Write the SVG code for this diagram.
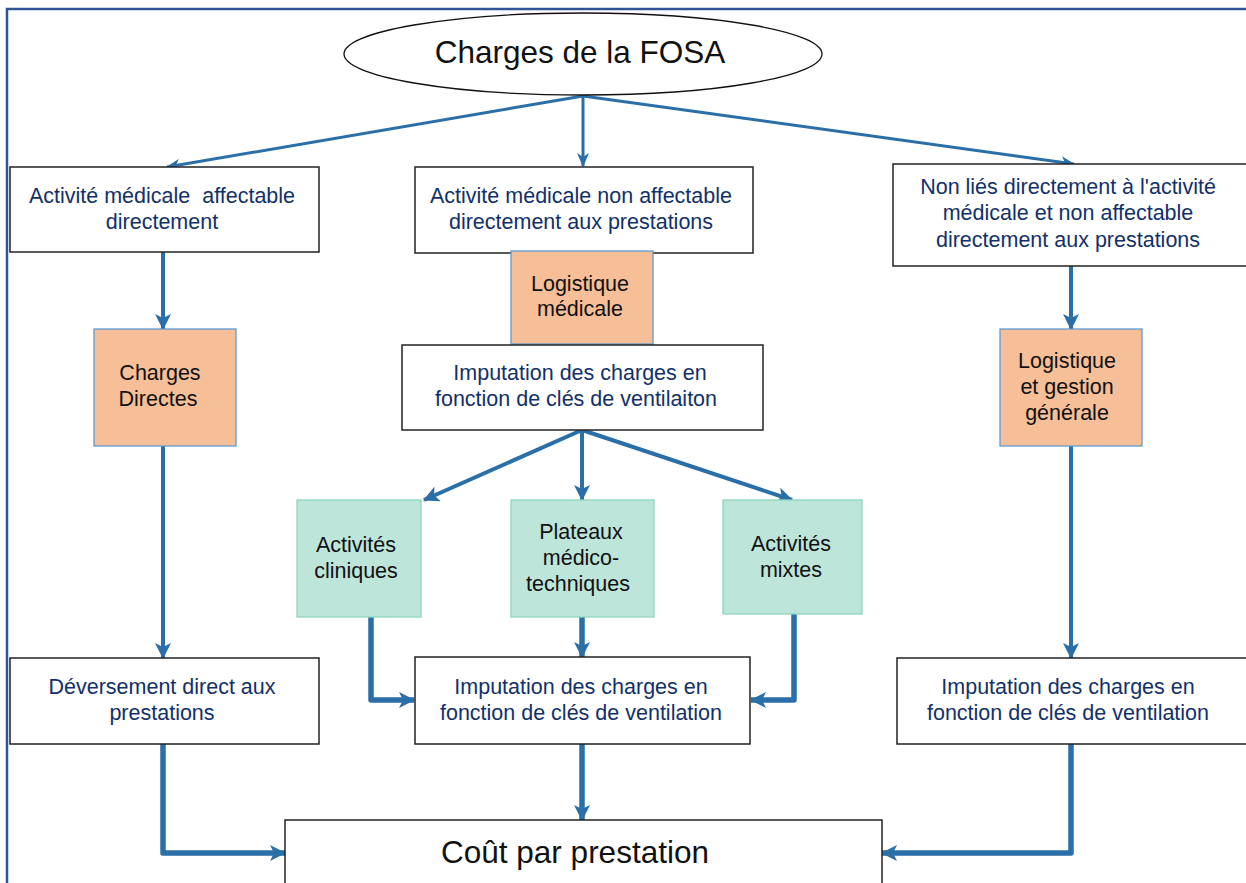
<svg xmlns="http://www.w3.org/2000/svg" width="1246" height="883" viewBox="0 0 1246 883">
<defs>
<style>
.box{fill:#fff;stroke:#222;stroke-width:1.5}
.org{fill:#F7BF98;stroke:#5B9BD5;stroke-width:1.3}
.grn{fill:#BDE5DA;stroke:#8FD6C1;stroke-width:1.3}
.t{font-family:"Liberation Sans",Arial,sans-serif;font-size:21.5px;fill:#12306A;text-anchor:middle;white-space:pre}
.k{font-family:"Liberation Sans",Arial,sans-serif;font-size:21.5px;fill:#111;text-anchor:middle}
.big{font-family:"Liberation Sans",Arial,sans-serif;font-size:31.5px;fill:#111;text-anchor:middle}
.c1{fill:none;stroke:#2A6FA8;stroke-width:3}
.c2{fill:none;stroke:#2A6FA8;stroke-width:4}
.c3{fill:none;stroke:#2A6FA8;stroke-width:5.5;stroke-linejoin:round}
</style>
<marker id="a1" markerUnits="userSpaceOnUse" viewBox="0 0 14 12" refX="13" refY="6" markerWidth="14" markerHeight="12" orient="auto">
<path d="M0,0 L14,6 L0,12 L4,6 z" fill="#2A6FA8"/>
</marker>
<marker id="a2" markerUnits="userSpaceOnUse" viewBox="0 0 16 16" refX="15" refY="8" markerWidth="16" markerHeight="16" orient="auto">
<path d="M0,0 L16,8 L0,16 L4,8 z" fill="#2A6FA8"/>
</marker>
</defs>
<rect x="7" y="9" width="1260" height="900" fill="#fff" stroke="#2F5597" stroke-width="2.5"/>

<g id="connectors">
<line class="c1" x1="583" y1="96" x2="167" y2="167" marker-end="url(#a1)"/>
<line class="c1" x1="583" y1="96" x2="583" y2="166" marker-end="url(#a1)"/>
<line class="c1" x1="583" y1="96" x2="1074" y2="164" marker-end="url(#a1)"/>
<line class="c2" x1="163" y1="252" x2="163" y2="329" marker-end="url(#a2)"/>
<line class="c2" x1="163" y1="446" x2="163" y2="658" marker-end="url(#a2)"/>
<line class="c2" x1="1071" y1="266" x2="1071" y2="329" marker-end="url(#a2)"/>
<line class="c2" x1="1071" y1="446" x2="1071" y2="658" marker-end="url(#a2)"/>
<line class="c2" x1="582" y1="430" x2="424" y2="500" marker-end="url(#a2)"/>
<line class="c2" x1="582" y1="430" x2="582" y2="500" marker-end="url(#a2)"/>
<line class="c2" x1="582" y1="430" x2="792" y2="500" marker-end="url(#a2)"/>
<polyline class="c3" points="371,617 371,700 414,700" marker-end="url(#a2)"/>
<line class="c3" x1="582" y1="617" x2="582" y2="657" marker-end="url(#a2)"/>
<polyline class="c3" points="794,614 794,700 751,700" marker-end="url(#a2)"/>
<polyline class="c3" points="163,744 163,853 285,853" marker-end="url(#a2)"/>
<line class="c3" x1="582" y1="744" x2="582" y2="820" marker-end="url(#a2)"/>
<polyline class="c3" points="1071,744 1071,853 882,853" marker-end="url(#a2)"/>
</g>

<g id="n-fosa">
<ellipse cx="583" cy="54" rx="239" ry="41" fill="#fff" stroke="#111" stroke-width="1.3"/>
<text class="big" x="580" y="63">Charges de la FOSA</text>
</g>

<g id="n-affectable">
<rect class="box" x="10" y="167" width="309" height="85"/>
<text class="t" x="162" y="203" xml:space="preserve">Activité médicale  affectable</text>
<text class="t" x="162" y="229">directement</text>
</g>

<g id="n-nonaffectable">
<rect class="box" x="415" y="167" width="338" height="86"/>
<text class="t" x="581" y="203">Activité médicale non affectable</text>
<text class="t" x="581" y="229">directement aux prestations</text>
</g>

<g id="n-nonlies">
<rect class="box" x="893" y="164" width="360" height="102"/>
<text class="t" x="1068" y="194">Non liés directement à l'activité</text>
<text class="t" x="1068" y="220">médicale et non affectable</text>
<text class="t" x="1068" y="247">directement aux prestations</text>
</g>

<g id="n-logmed">
<rect class="org" x="511" y="251" width="142" height="93"/>
<text class="k" x="580" y="291">Logistique</text>
<text class="k" x="580" y="316">médicale</text>
</g>

<g id="n-imput1">
<rect class="box" x="402" y="345" width="361" height="85"/>
<text class="t" x="580" y="380">Imputation des charges en</text>
<text class="t" x="576" y="406">fonction de clés de ventilaiton</text>
</g>

<g id="n-chargesdir">
<rect class="org" x="94" y="329" width="142" height="117"/>
<text class="k" x="160" y="380">Charges</text>
<text class="k" x="158" y="406">Directes</text>
</g>

<g id="n-loggest">
<rect class="org" x="1000" y="329" width="142" height="117"/>
<text class="k" x="1067" y="368">Logistique</text>
<text class="k" x="1067" y="394">et gestion</text>
<text class="k" x="1067" y="420">générale</text>
</g>

<g id="n-cliniques">
<rect class="grn" x="297" y="500" width="124" height="117"/>
<text class="k" x="356" y="552">Activités</text>
<text class="k" x="356" y="578">cliniques</text>
</g>

<g id="n-plateaux">
<rect class="grn" x="511" y="500" width="143" height="117"/>
<text class="k" x="581" y="539">Plateaux</text>
<text class="k" x="581" y="565">médico-</text>
<text class="k" x="578" y="591">techniques</text>
</g>

<g id="n-mixtes">
<rect class="grn" x="723" y="500" width="139" height="114"/>
<text class="k" x="791" y="551">Activités</text>
<text class="k" x="791" y="577">mixtes</text>
</g>

<g id="n-deversement">
<rect class="box" x="10" y="658" width="309" height="86"/>
<text class="t" x="162" y="694">Déversement direct aux</text>
<text class="t" x="162" y="720">prestations</text>
</g>

<g id="n-imput2">
<rect class="box" x="415" y="657" width="335" height="87"/>
<text class="t" x="581" y="694">Imputation des charges en</text>
<text class="t" x="581" y="720">fonction de clés de ventilation</text>
</g>

<g id="n-imput3">
<rect class="box" x="897" y="658" width="356" height="86"/>
<text class="t" x="1068" y="694">Imputation des charges en</text>
<text class="t" x="1068" y="720">fonction de clés de ventilation</text>
</g>

<g id="n-cout">
<rect class="box" x="285" y="820" width="597" height="80"/>
<text class="big" x="575" y="863">Coût par prestation</text>
</g>
</svg>
